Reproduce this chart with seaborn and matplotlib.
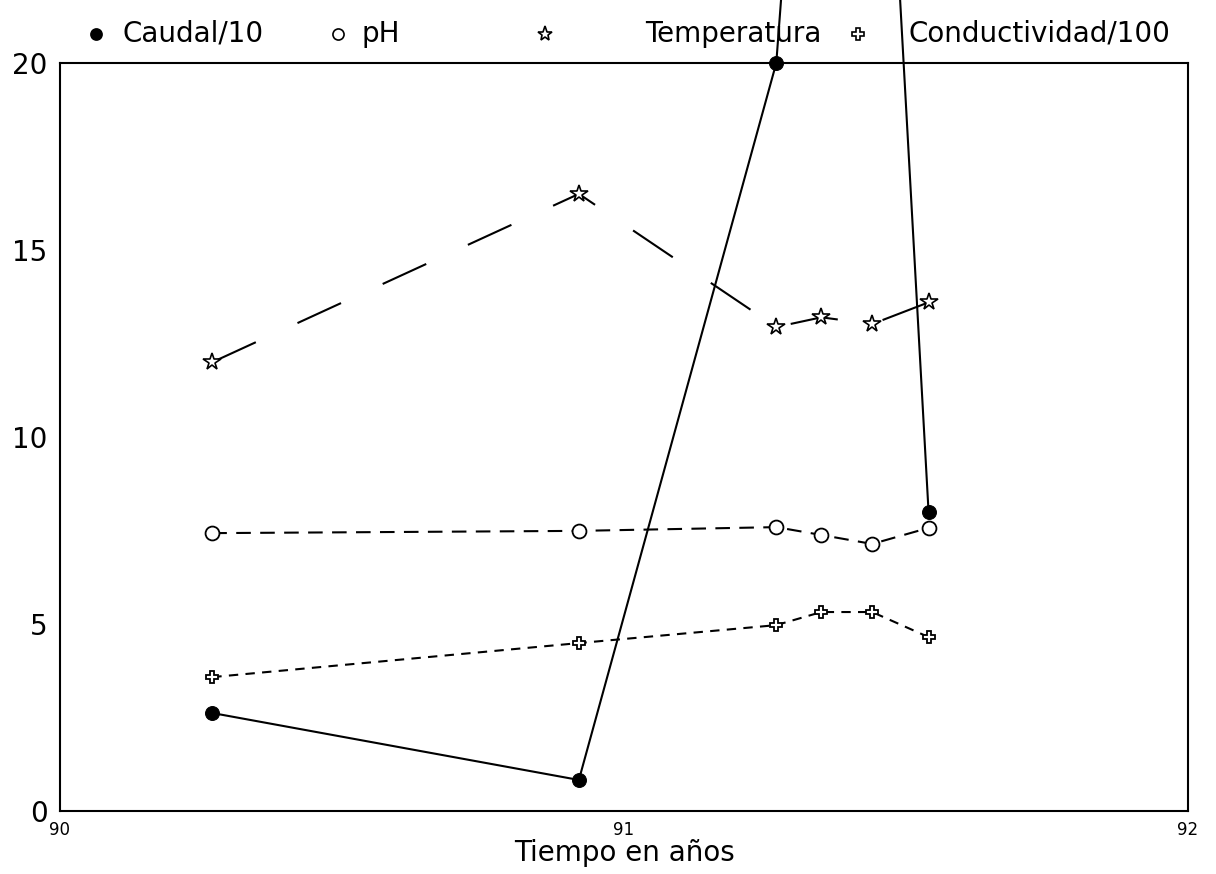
import matplotlib
matplotlib.use("Agg")
import matplotlib.pyplot as plt
import seaborn as sns
from matplotlib.lines import Line2D

# ---- data ----
x_common = [90.27, 90.92, 91.27, 91.35, 91.44, 91.54]
caudal_x = [90.27, 90.92, 91.27, 91.40, 91.54]
caudal = [2.62, 0.83, 20.0, 46.0, 8.0]
ph = [7.43, 7.49, 7.59, 7.38, 7.14, 7.57]
temperatura = [12.0, 16.5, 12.94, 13.2, 13.02, 13.6]
conductividad = [3.58, 4.49, 4.97, 5.32, 5.32, 4.65]

legend_labels = ["Caudal/10", "pH", "Temperatura", "Conductividad/100"]
xticks = [90, 91, 92]
yticks = [0, 5, 10, 15, 20]

sns.set_theme(style="white")
plt.rcParams['font.family'] = ['DejaVu Sans']
plt.rcParams['text.color'] = 'black'
plt.rcParams['xtick.color'] = 'black'
plt.rcParams['ytick.color'] = 'black'
plt.rcParams['axes.labelcolor'] = 'black'

W, H = 1216, 874
fig = plt.figure(figsize=(W / 100, H / 100), dpi=100)
ax = fig.add_axes([60 / W, 1 - 811 / H, (1188 - 60) / W, (811 - 63) / H])

lw = 1.5
sns.lineplot(x=caudal_x, y=caudal, ax=ax, color='black', lw=lw, marker='o',
             markersize=10, markerfacecolor='black', markeredgecolor='black',
             clip_on=False, zorder=5, sort=False)
sns.lineplot(x=x_common, y=ph, ax=ax, color='black', lw=lw, marker='o',
             markersize=10, markerfacecolor='white', markeredgecolor='black',
             markeredgewidth=1.3, linestyle=(0, (7, 4.5)), sort=False)
sns.lineplot(x=x_common, y=temperatura, ax=ax, color='black', lw=lw, marker='*',
             markersize=13, markerfacecolor='white', markeredgecolor='black',
             markeredgewidth=1.2, linestyle=(0, (23, 22)), sort=False)
sns.lineplot(x=x_common, y=conductividad, ax=ax, color='black', lw=lw, marker='P',
             markersize=9, markerfacecolor='white', markeredgecolor='black',
             markeredgewidth=1.3, linestyle=(0, (4.5, 3.5)), sort=False)

ax.set_xlim(90, 92)
ax.set_ylim(0, 20)
ax.set_xticks(xticks)
ax.set_xticklabels([str(t) for t in xticks], fontsize=12)
ax.set_yticks(yticks)
ax.set_yticklabels([str(t) for t in yticks], fontsize=20)
ax.tick_params(axis='y', direction='out', length=7, width=1.2, color='black', pad=2)
ax.tick_params(axis='x', direction='out', length=6, width=1.2, color='black', pad=1)
for s in ax.spines.values():
    s.set_color('black')
    s.set_linewidth(1.5)
ax.set_xlabel("Tiempo en años", fontsize=20, labelpad=0)
ax.set_ylabel("")
ax.grid(False)

# ---- legend row above the axes ----
ly = 1 - 34 / H
items = [
    dict(mx=96, tx=122, marker='o', mfc='black', ms=8),
    dict(mx=338, tx=362, marker='o', mfc='white', ms=8),
    dict(mx=545, tx=645, marker='*', mfc='white', ms=11),
    dict(mx=858, tx=908, marker='P', mfc='white', ms=8),
]
for it, lab in zip(items, legend_labels):
    fig.add_artist(Line2D([it['mx'] / W], [ly], transform=fig.transFigure,
                          marker=it['marker'], markerfacecolor=it['mfc'],
                          markeredgecolor='black', markersize=it['ms'],
                          markeredgewidth=1.2, linestyle='none'))
    fig.text(it['tx'] / W, ly, lab, fontsize=20, va='center', ha='left')

fig.savefig("out.png", dpi=100, facecolor='white')
